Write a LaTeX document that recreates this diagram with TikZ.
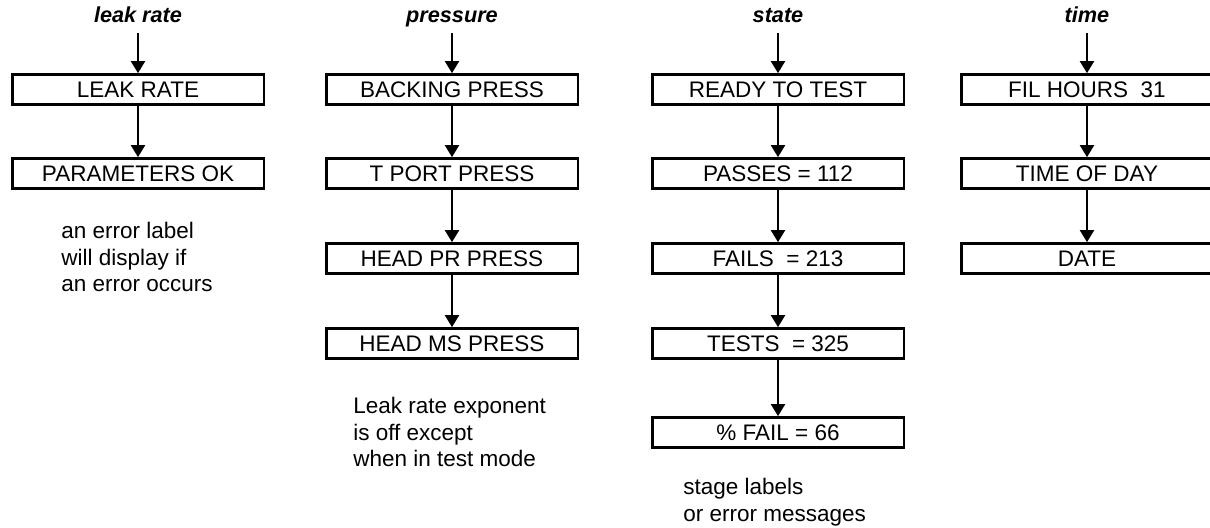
\documentclass[tikz,border=0pt]{standalone}
\usepackage{fontspec}
\setmainfont{Liberation Sans}
\usetikzlibrary{arrows.meta}
\begin{document}
\begin{tikzpicture}[x=0.6pt,y=-0.6pt,
  box/.style={draw,line width=1.6pt,minimum width=151pt,minimum height=18pt,inner sep=0pt,font=\fontsize{13.5}{16}\selectfont},
  ttl/.style={anchor=base,font=\fontsize{13}{15}\selectfont\bfseries\itshape,inner sep=0pt},
  arr/.style={line width=1.2pt,-{Triangle[length=7.2pt,width=8.4pt]}},
  note/.style={anchor=north west,align=left,inner sep=0pt,font=\fontsize{13.5}{16}\selectfont}]
\useasboundingbox (0,0) rectangle (1210,528);
% column 1
\node[ttl] (t1) at (138,22) {leak rate};
\coordinate (s1) at (138,33);
\node[box] (a1) at (138,89.5) {LEAK RATE};
\node[box] (a2) at (138,173.5) {PARAMETERS OK};
\node[note] (n1) at (61,222) {an error label\\will display if\\an error occurs};
\draw[arr] (s1) -- (a1.north);
\draw[arr] (a1.south) -- (a2.north);
% column 2
\node[ttl] (t2) at (452,22) {pressure};
\coordinate (s2) at (452,33);
\node[box] (b1) at (452,89.5) {BACKING PRESS};
\node[box] (b2) at (452,173.5) {T PORT PRESS};
\node[box] (b3) at (452,258.5) {HEAD PR PRESS};
\node[box] (b4) at (452,343.5) {HEAD MS PRESS};
\node[note] (n2) at (353,397) {Leak rate exponent\\is off except\\when in test mode};
\draw[arr] (s2) -- (b1.north);
\draw[arr] (b1.south) -- (b2.north);
\draw[arr] (b2.south) -- (b3.north);
\draw[arr] (b3.south) -- (b4.north);
% column 3
\node[ttl] (t3) at (778,22) {state};
\coordinate (s3) at (778,33);
\node[box] (c1) at (778,89.5) {READY TO TEST};
\node[box] (c2) at (778,173.5) {PASSES = 112};
\node[box] (c3) at (778,258.5) {FAILS\ \ = 213};
\node[box] (c4) at (778,343.5) {TESTS\ \ = 325};
\node[box] (c5) at (778,432.5) {\% FAIL = 66};
\node[note] (n3) at (683,478) {stage labels\\or error messages};
\draw[arr] (s3) -- (c1.north);
\draw[arr] (c1.south) -- (c2.north);
\draw[arr] (c2.south) -- (c3.north);
\draw[arr] (c3.south) -- (c4.north);
\draw[arr] (c4.south) -- (c5.north);
% column 4
\node[ttl] (t4) at (1087,22) {time};
\coordinate (s4) at (1087,33);
\node[box] (d1) at (1087,89.5) {FIL HOURS\ \ 31};
\node[box] (d2) at (1087,173.5) {TIME OF DAY};
\node[box] (d3) at (1087,258.5) {DATE};
\draw[arr] (s4) -- (d1.north);
\draw[arr] (d1.south) -- (d2.north);
\draw[arr] (d2.south) -- (d3.north);
\end{tikzpicture}
\end{document}
